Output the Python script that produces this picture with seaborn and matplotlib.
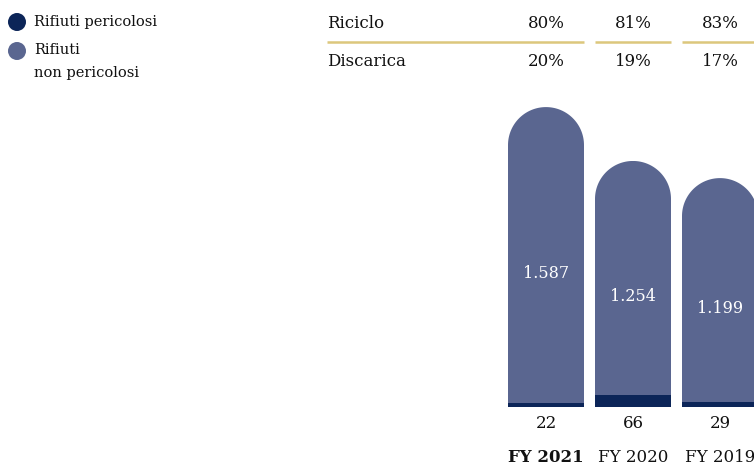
import numpy as np
import pandas as pd
import seaborn as sns
import matplotlib
matplotlib.use("Agg")
import matplotlib.pyplot as plt
import matplotlib.patches as mpatches
import matplotlib.transforms as mtransforms
from matplotlib.path import Path

# --- data -------------------------------------------------------------
years = ["FY 2021", "FY 2020", "FY 2019"]
hazardous = [22, 66, 29]
non_hazardous = [1587, 1254, 1199]
recycling = ["80%", "81%", "83%"]
landfill = ["20%", "19%", "17%"]
row_labels = ["Riciclo", "Discarica"]
legend_labels = ["Rifiuti pericolosi", "Rifiuti\nnon pericolosi"]

DARK = "#0c2558"
LIGHT = "#5a6690"
GOLD = "#dcc77c"
INK = "#111111"

sns.set_theme(style="white")
plt.rcParams["font.family"] = ["DejaVu Serif"]

W, H, DPI = 754, 466, 100
fig = plt.figure(figsize=(W / DPI, H / DPI), dpi=DPI)

# bar axes in pixel layout: bottom of bars at y=407 px from top
pitch = 87.0
ax_left = 546 - pitch / 2
ax_bottom = H - 407
ax_height = 307
ax = fig.add_axes([ax_left / W, ax_bottom / H, 3 * pitch / W, ax_height / H])

df = pd.DataFrame({
    "year": years,
    "haz": hazardous,
    "nonhaz": non_hazardous,
})
df["total"] = df["haz"] + df["nonhaz"]

bar_w = 76 / pitch
sns.barplot(data=df, x="year", y="total", color=LIGHT, saturation=1,
            width=bar_w, ax=ax, linewidth=0)
n_light = len(ax.patches)
sns.barplot(data=df, x="year", y="haz", color=DARK, saturation=1,
            width=bar_w, ax=ax, linewidth=0)

ax.set_xlim(-0.5, 2.5)
ax.set_ylim(0, 1647)
ax.axis("off")

# round the tops of the total bars
fig.canvas.draw()
for patch in ax.patches[:n_light]:
    bb = patch.get_window_extent()
    x0, y0, x1, y1 = bb.x0, bb.y0, bb.x1, bb.y1
    r = (x1 - x0) / 2
    cx, cy = (x0 + x1) / 2, y1 - r
    theta = np.linspace(np.pi, 0, 60)
    arc = np.column_stack([cx + r * np.cos(theta), cy + r * np.sin(theta)])
    verts = np.vstack([[x0, y0 - 2], [x0, cy], arc, [x1, cy], [x1, y0 - 2], [x0, y0 - 2]])
    patch.set_clip_path(Path(verts, closed=True), mtransforms.IdentityTransform())

# value labels inside the bars (middle of the straight part)
px_per_unit = ax_height / 1647
for i, row in df.iterrows():
    cap_units = 38 / px_per_unit
    y_mid = row["haz"] + (row["nonhaz"] - cap_units) / 2
    label = f"{row['nonhaz']:,}".replace(",", ".")
    ax.text(i, y_mid, label, ha="center", va="center", color="white", fontsize=11.5)

# blended transform: x in data, y in figure fraction
bt = mtransforms.blended_transform_factory(ax.transData, fig.transFigure)

def fy(px_from_top):
    return (H - px_from_top) / H

for i, row in df.iterrows():
    ax.text(i, fy(423), f"{row['haz']}", transform=bt, ha="center", va="center",
            color=INK, fontsize=12, clip_on=False)
    ax.text(i, fy(457), years[i], transform=bt, ha="center", va="center",
            color=INK, fontsize=12, fontweight="bold" if i == 0 else "normal",
            clip_on=False)

# table above the bars
def data_x(px):
    return (px - ax_left) / pitch - 0.5

ax.text(data_x(327), fy(23), row_labels[0], transform=bt, ha="left", va="center",
        color=INK, fontsize=12, clip_on=False)
ax.text(data_x(327), fy(62), row_labels[1], transform=bt, ha="left", va="center",
        color=INK, fontsize=12, clip_on=False)
for i in range(len(years)):
    ax.text(i, fy(23), recycling[i], transform=bt, ha="center", va="center",
            color=INK, fontsize=12, clip_on=False)
    ax.text(i, fy(62), landfill[i], transform=bt, ha="center", va="center",
            color=INK, fontsize=12, clip_on=False)
    start = data_x(327) if i == 0 else i - bar_w / 2
    ax.plot([start, i + bar_w / 2], [fy(42), fy(42)], transform=bt, color=GOLD,
            lw=1.8, solid_capstyle="butt", clip_on=False)

# legend
ident = mtransforms.IdentityTransform()
for (cy_px, col) in [(22, DARK), (51, LIGHT)]:
    fig.add_artist(mpatches.Circle((17, H - cy_px), 9, transform=ident,
                                   color=col, lw=0))
fig.text(34 / W, fy(22), legend_labels[0], ha="left", va="center", color=INK, fontsize=10.5)
for line, ypx in zip(legend_labels[1].split("\n"), (50, 73)):
    fig.text(34 / W, fy(ypx), line, ha="left", va="center", color=INK, fontsize=10.5)

fig.savefig("out.png", dpi=DPI, facecolor="white")
